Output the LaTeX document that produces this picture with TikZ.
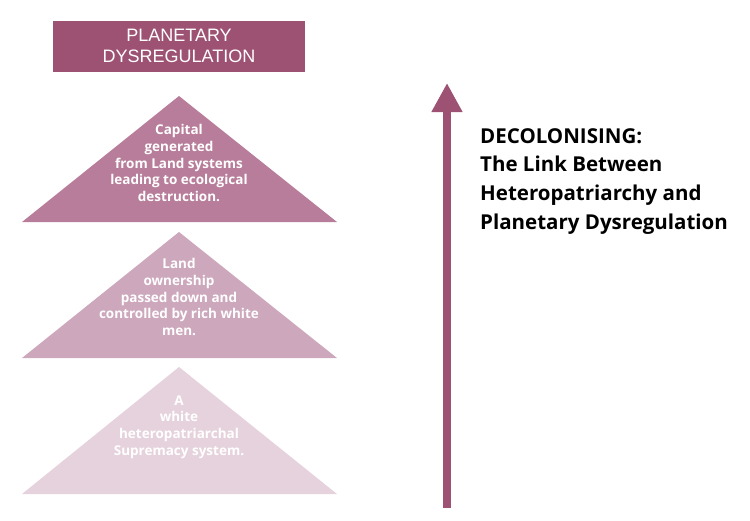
\documentclass[tikz,border=0pt]{standalone}
\usepackage{fontspec}
\setmainfont{Open Sans}
\newfontfamily\hdfont{Liberation Sans}
\usetikzlibrary{arrows.meta}
\definecolor{plumdark}{HTML}{9D5274}
\definecolor{plumtop}{HTML}{B87D9A}
\definecolor{plummid}{HTML}{CDA7BC}
\definecolor{plumlow}{HTML}{E6D2DC}
\tikzset{
  tritext/.style={text=white, align=center, inner sep=0pt, font=\fontsize{13.5}{16.8}\selectfont\bfseries},
  headbox/.style={fill=plumdark, text=white, align=center, inner sep=0pt, minimum width=252pt, minimum height=51pt, font=\hdfont\fontsize{18}{21.6}\selectfont},
  titletext/.style={text=black, align=left, inner sep=0pt, anchor=north west, font=\fontsize{20.5}{28.7}\selectfont\bfseries},
  uparrow/.style={draw=plumdark, line width=8pt, -{Triangle[width=29pt,length=29pt]}}
}
\begin{document}
\begin{tikzpicture}[x=1pt,y=-1pt]
\useasboundingbox (0,0) rectangle (750,520);
% header
\node[headbox] (head) at (179,46) {PLANETARY\\DYSREGULATION};
% triangles
\fill[plumtop] (22,222) -- (179,96) -- (337,222) -- cycle;
\fill[plummid] (22,358) -- (179,232) -- (337,358) -- cycle;
\fill[plumlow] (22,494) -- (179,367) -- (337,494) -- cycle;
\node[tritext] (t1) at (179,163) {Capital\\generated\\from Land systems\\leading to ecological\\destruction.};
\node[tritext] (t2) at (179,297) {Land\\ownership\\passed down and\\controlled by rich white\\men.};
\node[tritext] (t3) at (179,427) {A\\white\\heteropatriarchal\\Supremacy system.};
% arrow
\coordinate (abot) at (447,508);
\coordinate (atop) at (447,83);
\draw[uparrow] (abot) -- (atop);
% title
\node[titletext] (title) at (480,128) {DECOLONISING:\\The Link Between\\Heteropatriarchy and\\Planetary Dysregulation};
\end{tikzpicture}
\end{document}
